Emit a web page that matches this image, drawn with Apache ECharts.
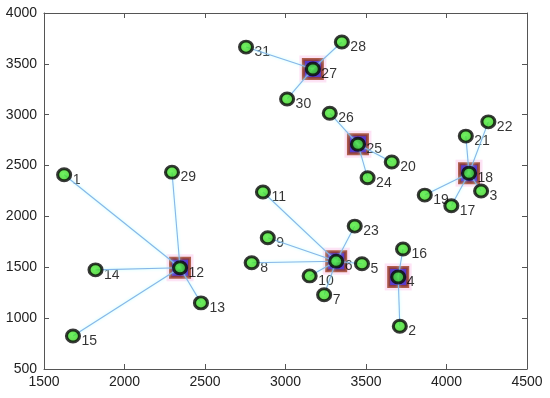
<!DOCTYPE html>
<html>
<head>
<meta charset="utf-8">
<script src="https://cdn.jsdelivr.net/npm/echarts@6/dist/echarts.min.js"></script>
<style>html,body{margin:0;padding:0;background:#fff}#c{width:550px;height:398px}</style>
</head>
<body>
<div id="c"></div>
<script>
const pointLabels = ['1','2','3','4','5','6','7','8','9','10','11','12','13','14','15','16','17','18','19','20','21','22','23','24','25','26','27','28','29','30','31'];
const xValues = [1625,3710,4215,3700,3475,3315,3240,2790,2890,3150,2860,2345,2475,1820,1680,3730,4030,4140,3865,3660,4120,4260,3430,3510,3450,3275,3170,3350,2295,3010,2755];
const yValues = [2410,920,2250,1405,1535,1560,1230,1545,1790,1415,2240,1495,1150,1475,825,1680,2105,2425,2210,2535,2790,2930,1905,2380,2710,3015,3450,3715,2435,3155,3665];
const clusterOf = ['12','4','18','4','6','6','6','6','6','6','6','12','12','12','12','4','18','18','18','25','18','18','6','25','25','25','27','27','12','27','27'];
const centerLabels = ['4','6','12','18','25','27'];
const xTicks = [1500,2000,2500,3000,3500,4000,4500];
const yTicks = [500,1000,1500,2000,2500,3000,3500,4000];

const idx = l => pointLabels.indexOf(l);
const pts = pointLabels.map((l,i)=>[xValues[i], yValues[i], l]);
const centerPts = centerLabels.map(l=>[xValues[idx(l)], yValues[idx(l)]]);
const links = pointLabels.map((l,i)=>{
  const c = idx(clusterOf[i]);
  return {coords:[[xValues[c],yValues[c]],[xValues[i],yValues[i]]]};
}).filter((d,i)=>clusterOf[i]!==pointLabels[i]);

const chart = echarts.init(document.getElementById('c'));
const axisFont = {fontFamily:'Liberation Sans, Arial, sans-serif', fontSize:14, color:'#222', formatter:v=>String(v)};
const axLine = {show:true, lineStyle:{color:'#555', width:1}};
const tick = {show:true, inside:true, length:5, lineStyle:{color:'#555'}};
chart.setOption({
  animation:false,
  grid:{left:44, right:23, top:13, bottom:29},
  xAxis:[
    {type:'value', min:xTicks[0], max:xTicks[xTicks.length-1], interval:500, position:'bottom',
     axisLine:axLine, axisTick:tick, axisLabel:Object.assign({margin:6}, axisFont), splitLine:{show:false}},
    {type:'value', min:xTicks[0], max:xTicks[xTicks.length-1], interval:500, position:'top',
     axisLine:axLine, axisTick:tick, axisLabel:{show:false}, splitLine:{show:false}}
  ],
  yAxis:[
    {type:'value', min:yTicks[0], max:yTicks[yTicks.length-1], interval:500, position:'left',
     axisLine:axLine, axisTick:tick, axisLabel:Object.assign({margin:7}, axisFont), splitLine:{show:false}},
    {type:'value', min:yTicks[0], max:yTicks[yTicks.length-1], interval:500, position:'right',
     axisLine:axLine, axisTick:tick, axisLabel:{show:false}, splitLine:{show:false}}
  ],
  series:[
    {type:'scatter', data:centerPts, symbol:'rect', symbolSize:27, itemStyle:{color:'#fcdcf2'}, z:2, silent:true},
    {type:'scatter', data:centerPts, symbol:'rect', symbolSize:19,
     itemStyle:{color:'#3010c0', borderColor:'#9a3c20', borderWidth:3}, z:2},
    {type:'scatter', data:pts, symbol:'circle', symbolSize:13, itemStyle:{color:'rgba(0,0,0,0)'},
     label:{show:true, position:'right', distance:2, offset:[0,5], formatter:p=>p.data[2],
       fontFamily:'Liberation Sans, Arial, sans-serif', fontSize:14, color:'#000'}, z:2},
    {type:'lines', coordinateSystem:'cartesian2d', data:links,
     lineStyle:{color:'#86b6e8', width:1.1, opacity:1, shadowColor:'rgba(170,255,255,0.9)', shadowBlur:3}, z:3},
    {type:'scatter', data:pts, symbol:'circle', symbolSize:[13,12],
     itemStyle:{color:new echarts.graphic.RadialGradient(0.45,0.45,0.6,[{offset:0,color:'#4cf03a'},{offset:1,color:'#32c016'}]),
       borderColor:'#080808', borderWidth:3}, z:4}
  ]
});
</script>
</body>
</html>
